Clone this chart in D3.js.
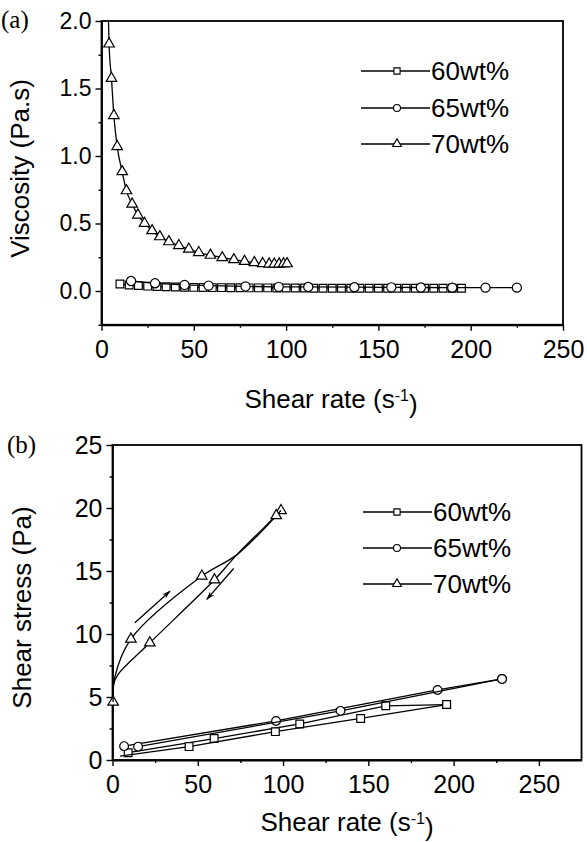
<!DOCTYPE html>
<meta charset="utf-8">
<script src="https://d3js.org/d3.v7.min.js"></script>
<style>
  body { margin: 0; background: #fff; }
  text { font-family: "Liberation Sans", Arial, sans-serif; fill: #000; }
</style>
<div id="chart"></div>
<script>

// ---- panel (a): viscosity vs shear rate ----
var aTri70X = [3.2, 4.1, 5.4, 6.7, 8.5, 11.2, 13.5, 16.6, 19.7, 23.3, 27.4, 31.6, 36.5, 41.9, 47.3, 52.7, 59, 65.4, 71.7, 77.5, 82.8, 87.3, 90.8, 93.6, 96.2, 98.6, 100.5];
var aTri70Y = [2.3, 1.83, 1.575, 1.30, 1.07, 0.884, 0.743, 0.644, 0.563, 0.501, 0.447, 0.402, 0.365, 0.337, 0.31, 0.285, 0.265, 0.247, 0.232, 0.22, 0.21, 0.203, 0.2, 0.199, 0.2, 0.201, 0.202];

var aSq60X = [10, 15, 20, 25, 30, 35, 40, 45, 50, 55, 60, 65, 70, 75, 80, 85, 90, 95, 100, 105, 110, 115, 120, 125, 130, 135, 140, 145, 150, 155, 160, 165, 170, 175, 180, 185, 190, 195];
var aSq60Y = [0.052, 0.045, 0.04, 0.036, 0.033, 0.031, 0.029, 0.028, 0.027, 0.026, 0.025, 0.025, 0.024, 0.024, 0.023, 0.023, 0.023, 0.022, 0.022, 0.022, 0.022, 0.021, 0.021, 0.021, 0.021, 0.021, 0.02, 0.02, 0.02, 0.02, 0.02, 0.02, 0.02, 0.02, 0.02, 0.02, 0.02, 0.02];

var aCir65X = [16, 29, 45, 58, 78, 96, 112, 137, 157, 173, 190, 208, 225];
var aCir65Y = [0.074, 0.057, 0.045, 0.04, 0.034, 0.031, 0.03, 0.028, 0.027, 0.026, 0.025, 0.025, 0.025];

// ---- panel (b): shear stress vs shear rate (up / down sweeps) ----
// m = 1 where a symbol is drawn
var b60UpX = [9.2, 59.6, 109.8, 160.2, 195.9];
var b60UpY = [0.58, 1.7, 2.86, 4.3, 4.4];
var b60UpM = [1, 1, 1, 1, 1];
var b60DnX = [195.9, 145.5, 95.5, 44.9, 4.4];
var b60DnY = [4.4, 3.3, 2.25, 1.06, 0.3];
var b60DnM = [1, 1, 1, 1, 0];

var b65UpX = [6.8, 95.9, 190.6, 228.4];
var b65UpY = [1.1, 3.1, 5.56, 6.43];
var b65UpM = [1, 1, 1, 1];
var b65DnX = [228.4, 133.7, 15];
var b65DnY = [6.43, 3.9, 1.06];
var b65DnM = [1, 1, 1];

var b70UpX = [0.4, 1.4, 10.8, 52.4, 73, 98.8];
var b70UpY = [4.6, 6.6, 9.6, 14.6, 16.3, 19.8];
var b70UpM = [1, 0, 1, 1, 0, 1];
var b70DnX = [98.8, 96, 73, 59.8, 21.9, 3.3, 0.6, 0.4];
var b70DnY = [19.8, 19.4, 16.3, 14.3, 9.3, 6.8, 6.0, 4.6];
var b70DnM = [0, 1, 0, 1, 1, 0, 0, 0];

// sweep-direction arrows [x1, y1, x2, y2]
var arrowUp = [13.1, 10.9, 33.7, 13.4];
var arrowDn = [71, 15.2, 55.3, 12.75];

var legendNames = ["60wt%", "65wt%", "70wt%"];

var svg = d3.select("#chart").append("svg")
  .attr("width", 587)
  .attr("height", 842);

var defs = svg.append("defs");
defs.append("marker")
  .attr("id", "head")
  .attr("viewBox", "0 0 10 10")
  .attr("refX", 9).attr("refY", 5)
  .attr("markerWidth", 9).attr("markerHeight", 9)
  .attr("markerUnits", "userSpaceOnUse")
  .attr("orient", "auto")
  .append("path")
  .attr("d", "M0,2 L10,5 L0,8 L3,5 Z")
  .attr("fill", "#000");

function zip(xs, ys, ms) {
  return xs.map(function(d, i) { return {x: d, y: ys[i], m: ms ? ms[i] : 1}; });
}

var symType = [d3.symbolSquare, d3.symbolCircle, d3.symbolTriangle];

function drawAxes(g, x, y, opt) {
  var w = x.range()[1] - x.range()[0];
  var h = y.range()[0] - y.range()[1];
  // minor ticks
  g.append("g")
    .attr("transform", "translate(0," + y.range()[0] + ")")
    .call(d3.axisBottom(x).tickValues(opt.xMinor).tickSize(3).tickFormat(""))
    .call(function(s) { s.select(".domain").remove(); });
  g.append("g")
    .attr("transform", "translate(" + x.range()[0] + ",0)")
    .call(d3.axisLeft(y).tickValues(opt.yMinor).tickSize(3).tickFormat(""))
    .call(function(s) { s.select(".domain").remove(); });
  // major ticks
  var xa = g.append("g")
    .attr("transform", "translate(0," + y.range()[0] + ")")
    .call(d3.axisBottom(x).tickValues(opt.xMajor).tickSize(6).tickSizeOuter(0).tickPadding(6));
  xa.selectAll("text").style("font-size", opt.xFont + "px").attr("dy", "0.85em");
  var ya = g.append("g")
    .attr("transform", "translate(" + x.range()[0] + ",0)")
    .call(d3.axisLeft(y).tickValues(opt.yMajor).tickSize(6).tickSizeOuter(0).tickPadding(4).tickFormat(opt.yFmt));
  ya.selectAll("text").style("font-size", opt.yFont + "px");
  g.selectAll(".tick line").attr("stroke-width", 1.4);
  g.selectAll(".domain").attr("stroke-width", 1.8);
  // frame top / right
  g.append("rect")
    .attr("x", x.range()[0]).attr("y", y.range()[1])
    .attr("width", w).attr("height", h)
    .attr("fill", "none").attr("stroke", "#000").attr("stroke-width", 1.8);
}

function drawSeries(g, pts, k, curve, size) {
  var line = d3.line()
    .x(function(d) { return d.sx; })
    .y(function(d) { return d.sy; })
    .curve(curve);
  g.append("path")
    .datum(pts)
    .attr("d", line)
    .attr("fill", "none")
    .attr("stroke", "#000")
    .attr("stroke-width", 1.3);
  g.selectAll(null)
    .data(pts.filter(function(d) { return d.m; }))
    .enter().append("path")
    .attr("transform", function(d) { return "translate(" + d.sx + "," + d.sy + ")"; })
    .attr("d", d3.symbol().type(symType[k]).size(size))
    .attr("fill", "#fff")
    .attr("stroke", "#000")
    .attr("stroke-width", 1.2);
}

function scaled(pts, x, y) {
  pts.forEach(function(d) { d.sx = x(d.x); d.sy = y(d.y); });
  return pts;
}

function drawLegend(g, x0, x1, xm, rows) {
  rows.forEach(function(ry, i) {
    g.append("line")
      .attr("x1", x0).attr("x2", x1).attr("y1", ry).attr("y2", ry)
      .attr("stroke", "#000").attr("stroke-width", 1.3);
    g.append("path")
      .attr("transform", "translate(" + xm + "," + ry + ")")
      .attr("d", d3.symbol().type(symType[i]).size(i === 2 ? 34 : 38))
      .attr("fill", "#fff").attr("stroke", "#000").attr("stroke-width", 1.1);
    g.append("text")
      .attr("x", x1 + 1).attr("y", ry).attr("dy", "0.36em")
      .style("font-size", "26px")
      .text(legendNames[i]);
  });
}

function xTitle(g, cx, by) {
  var t = g.append("text")
    .attr("x", cx).attr("y", by)
    .attr("text-anchor", "middle")
    .style("font-size", "26px");
  t.append("tspan").text("Shear rate (s");
  t.append("tspan").attr("dy", "-0.45em").style("font-size", "16px").text("-1");
  t.append("tspan").attr("dy", "0.45em").text(")");
}

// ---------- panel (a) ----------
var ax = d3.scaleLinear().domain([0, 250]).range([101.5, 563]);
var ay = d3.scaleLinear().domain([-0.25, 2.0]).range([324.75, 21]);
var ga = svg.append("g");

defs.append("clipPath").attr("id", "clipA")
  .append("rect")
  .attr("x", ax.range()[0]).attr("y", ay.range()[1])
  .attr("width", ax.range()[1] - ax.range()[0])
  .attr("height", ay.range()[0] - ay.range()[1]);

drawAxes(ga, ax, ay, {
  xMajor: [0, 50, 100, 150, 200, 250], xMinor: d3.range(25, 250, 50),
  yMajor: [0, 0.5, 1.0, 1.5, 2.0], yMinor: [-0.25, 0.25, 0.75, 1.25, 1.75],
  yFmt: d3.format(".1f"), xFont: 25, yFont: 23
});

var pa = ga.append("g").attr("clip-path", "url(#clipA)");
drawSeries(pa, scaled(zip(aSq60X, aSq60Y), ax, ay), 0, d3.curveLinear, 60);
drawSeries(pa, scaled(zip(aCir65X, aCir65Y), ax, ay), 1, d3.curveLinear, 66);
drawSeries(pa, scaled(zip(aTri70X, aTri70Y), ax, ay), 2, d3.curveMonotoneX, 48);

drawLegend(ga, 361, 430, 397, [71, 108, 144]);

ga.append("text")
  .attr("transform", "translate(29,168.5) rotate(-90)")
  .attr("text-anchor", "middle")
  .style("font-size", "26px")
  .text("Viscosity (Pa.s)");
xTitle(ga, 331, 408);
ga.append("text")
  .attr("x", 1).attr("y", 28)
  .style("font-family", "'Liberation Serif', 'Times New Roman', serif")
  .style("font-size", "25px")
  .text("(a)");

// ---------- panel (b) ----------
var bx = d3.scaleLinear().domain([0, 275]).range([112.5, 581.5]);
var by = d3.scaleLinear().domain([0, 25]).range([760, 445]);
var gb = svg.append("g");

drawAxes(gb, bx, by, {
  xMajor: [0, 50, 100, 150, 200, 250], xMinor: d3.range(25, 275, 50),
  yMajor: [0, 5, 10, 15, 20, 25], yMinor: d3.range(2.5, 25, 5),
  yFmt: d3.format("d"), xFont: 25, yFont: 25
});

var cr = d3.curveCatmullRom.alpha(0.5);
drawSeries(gb, scaled(zip(b60UpX, b60UpY, b60UpM), bx, by), 0, d3.curveLinear, 60);
drawSeries(gb, scaled(zip(b60DnX, b60DnY, b60DnM), bx, by), 0, d3.curveLinear, 60);
drawSeries(gb, scaled(zip(b65UpX, b65UpY, b65UpM), bx, by), 1, d3.curveLinear, 60);
drawSeries(gb, scaled(zip(b65DnX, b65DnY, b65DnM), bx, by), 1, d3.curveLinear, 60);
drawSeries(gb, scaled(zip(b70UpX, b70UpY, b70UpM), bx, by), 2, cr, 48);
drawSeries(gb, scaled(zip(b70DnX, b70DnY, b70DnM), bx, by), 2, cr, 48);

[arrowUp, arrowDn].forEach(function(a) {
  gb.append("line")
    .attr("x1", bx(a[0])).attr("y1", by(a[1]))
    .attr("x2", bx(a[2])).attr("y2", by(a[3]))
    .attr("stroke", "#000").attr("stroke-width", 1.3)
    .attr("marker-end", "url(#head)");
});

drawLegend(gb, 363, 432, 397, [512, 548, 584]);

gb.append("text")
  .attr("transform", "translate(31,607.5) rotate(-90)")
  .attr("text-anchor", "middle")
  .style("font-size", "26px")
  .text("Shear stress (Pa)");
xTitle(gb, 347, 831);
gb.append("text")
  .attr("x", 7).attr("y", 453)
  .style("font-family", "'Liberation Serif', 'Times New Roman', serif")
  .style("font-size", "25px")
  .text("(b)");

</script>
